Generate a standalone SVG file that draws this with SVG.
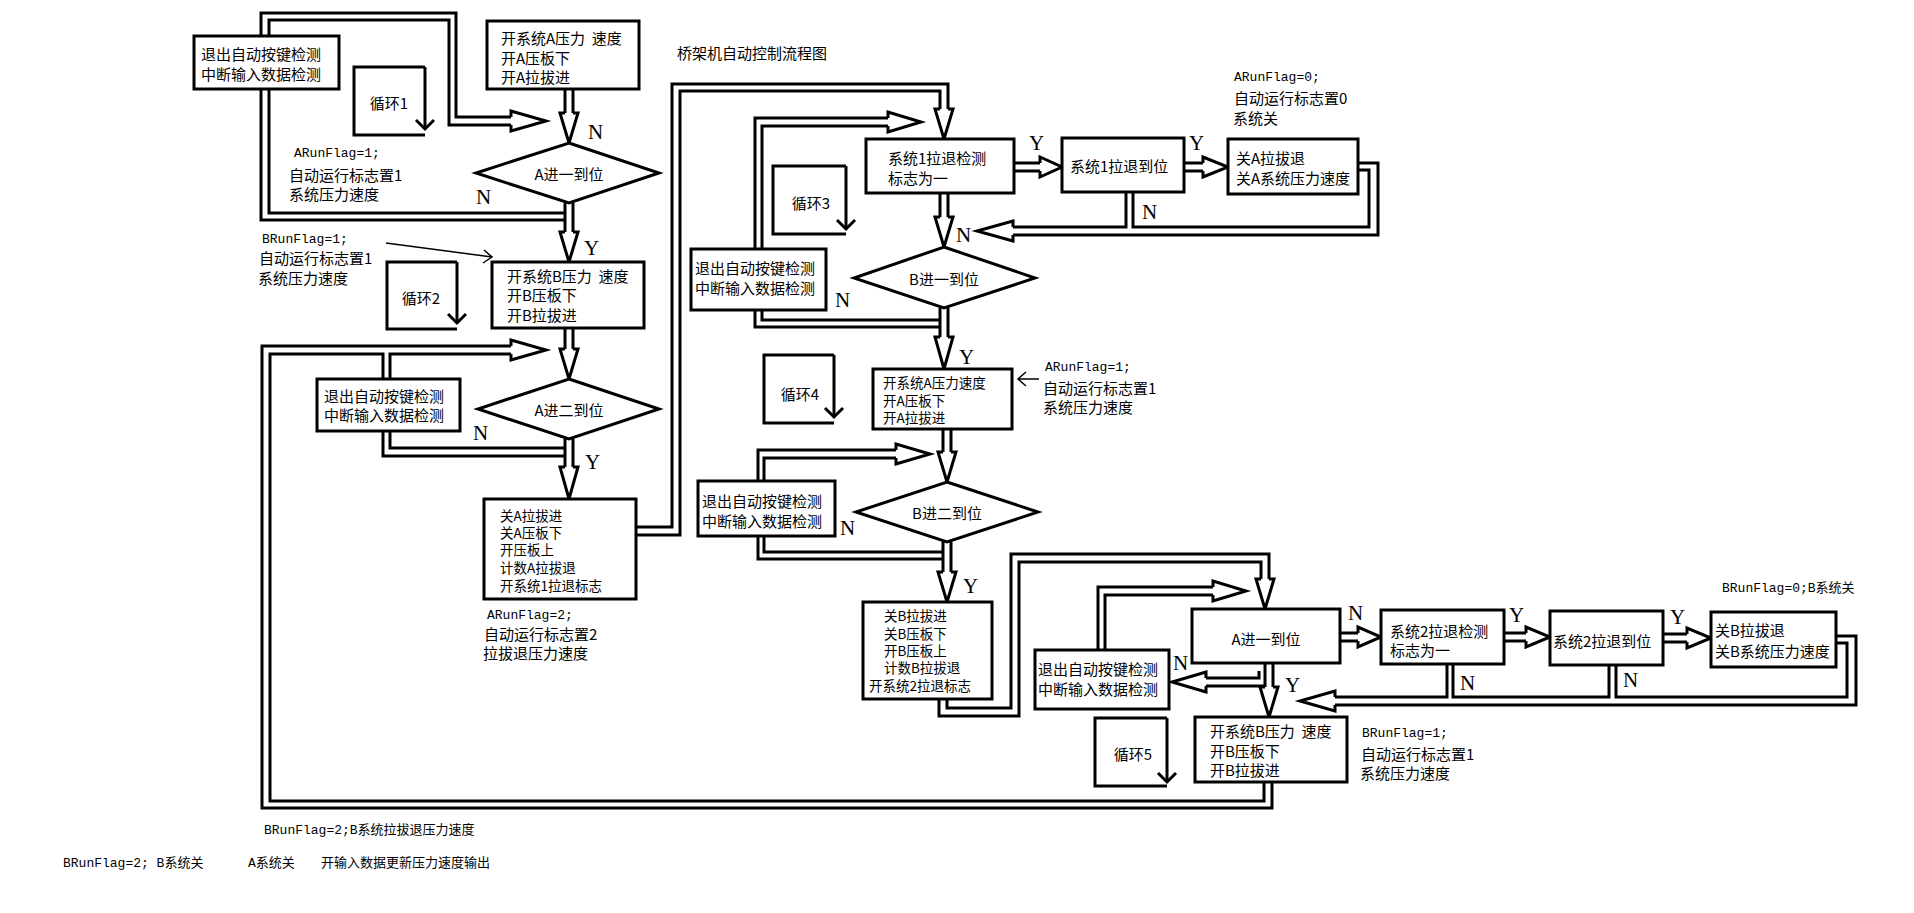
<svg xmlns="http://www.w3.org/2000/svg" width="1914" height="913" viewBox="0 0 1914 913">
<style>
.ln{fill:none;stroke:#000;stroke-width:3}
.hd{fill:#fff;stroke:#000;stroke-width:3;stroke-linejoin:miter}
.th{fill:none;stroke:#000;stroke-width:1.5}
.bx{fill:#fff;stroke:#000;stroke-width:3}
.t{font-family:"Noto Sans CJK SC","Liberation Sans",sans-serif;font-size:15px;fill:#000;dominant-baseline:central;white-space:pre}
.s{font-size:13.5px}
.m{font-family:"Liberation Mono","Noto Sans CJK SC",monospace;font-size:13px;fill:#000;dominant-baseline:central}
.c{text-anchor:middle}
.yn{font-family:"Liberation Serif",serif;font-size:21px;fill:#000;dominant-baseline:central}
</style>
<rect width="1914" height="913" fill="#fff"/>
<g id="connectors">
<path class="ln" d="M565,89V113M573,89V113"/><polyline class="hd" points="565,113 560,113 569,143 578,113 573,113"/>
<path class="ln" d="M565,203V232M573,203V232"/><polyline class="hd" points="565,232 560,232 569,262 578,232 573,232"/>
<path class="ln" d="M565,328V349M573,328V349"/><polyline class="hd" points="565,349 560,349 569,379 578,349 573,349"/>
<path class="ln" d="M565,439V467M573,439V467"/><polyline class="hd" points="565,467 560,467 569,499 578,467 573,467"/>
<path class="ln" d="M511,117H456V13H261V220H565M511,125H449V20H269V213H565"/>
<polyline class="hd" points="511,117 511,111 546,121 511,131 511,125"/>
<path class="ln" d="M511,346H262V808H1272V782M1264,782V801H270V354H383V456H565M511,354H390V448H565"/>
<polyline class="hd" points="511,346 511,340 546,350 511,360 511,354"/>
<path class="ln" d="M636,527H672V84H948V109M636,535H680V91H940V109"/>
<polyline class="hd" points="940,109 935,109 944,139 953,109 948,109"/>
<path class="ln" d="M888,118H755V327H940M888,126H762V320H940"/>
<polyline class="hd" points="888,118 888,112 921,122 888,132 888,126"/>
<path class="ln" d="M940,193V217M948,193V217"/><polyline class="hd" points="940,217 935,217 944,247 953,217 948,217"/>
<path class="ln" d="M940,308V337M948,308V337"/><polyline class="hd" points="940,337 935,337 944,369 953,337 948,337"/>
<path class="ln" d="M1014,163H1040M1014,171H1040"/><polyline class="hd" points="1040,163 1040,157 1062,167 1040,177 1040,171"/>
<path class="ln" d="M1184,163H1203M1184,171H1203"/><polyline class="hd" points="1203,163 1203,157 1228,167 1203,177 1203,171"/>
<path class="ln" d="M1126,192V227H1013M1133,192V227H1369V170H1358M1013,235H1378V163H1358"/>
<polyline class="hd" points="1013,227 1013,221 977,231 1013,241 1013,235"/>
<line class="th" x1="1039" y1="379" x2="1018" y2="379"/><polyline class="th" points="1026,372 1018,379 1026,386"/>
<path class="ln" d="M896,450H758V559H943M896,458H764V552H943"/>
<polyline class="hd" points="896,450 896,444 930,454 896,464 896,458"/>
<path class="ln" d="M943,429V452M951,429V452"/><polyline class="hd" points="943,452 938,452 947,482 956,452 951,452"/>
<path class="ln" d="M943,542V572M951,542V572"/><polyline class="hd" points="943,572 938,572 947,602 956,572 951,572"/>
<path class="ln" d="M947,699V708H1011V554H1269V579M939,699V716H1019V562H1261V579"/>
<polyline class="hd" points="1261,579 1256,579 1265,609 1274,579 1269,579"/>
<path class="ln" d="M1213,587H1098V650M1213,595H1105V650"/>
<polyline class="hd" points="1213,587 1213,581 1246,591 1213,601 1213,595"/>
<path class="ln" d="M1206,678H1259V671M1206,686H1265"/>
<polyline class="hd" points="1206,678 1206,672 1172,682 1206,692 1206,686"/>
<path class="ln" d="M1265,663V687M1273,663V687"/><polyline class="hd" points="1265,687 1260,687 1269,717 1278,687 1273,687"/>
<path class="ln" d="M1340,633H1358M1340,641H1358"/><polyline class="hd" points="1358,633 1358,627 1381,637 1358,647 1358,641"/>
<path class="ln" d="M1504,633H1526M1504,641H1526"/><polyline class="hd" points="1526,633 1526,627 1550,637 1526,647 1526,641"/>
<path class="ln" d="M1663,634H1687M1663,642H1687"/><polyline class="hd" points="1687,634 1687,628 1711,638 1687,648 1687,642"/>
<path class="ln" d="M1447,664V697H1335M1453,664V697H1609V665M1616,665V697H1847V643H1836M1335,705H1856V636H1836"/>
<polyline class="hd" points="1335,697 1335,691 1300,701 1335,711 1335,705"/>
<line class="th" x1="386" y1="243" x2="492" y2="257"/><polyline class="th" points="484,250 492,257 483,263"/>
<path class="ln" d="M425,67H354V135H425M425,67V129"/><polyline class="ln" points="416,120 425,129 434,120"/>
<path class="ln" d="M457,262H387V329H457M457,262V323"/><polyline class="ln" points="448,314 457,323 466,314"/>
<path class="ln" d="M846,166H773V234H846M846,166V229"/><polyline class="ln" points="837,220 846,229 855,220"/>
<path class="ln" d="M834,355H764V423H834M834,355V417"/><polyline class="ln" points="825,408 834,417 843,408"/>
<path class="ln" d="M1167,718H1095V786H1167M1167,718V782"/><polyline class="ln" points="1158,773 1167,782 1176,773"/>
</g>
<g id="node-exit1"><rect class="bx" x="194" y="36" width="145" height="53"/><text class="t" x="201" y="53">退出自动按键检测</text><text class="t" x="201" y="73">中断输入数据检测</text></g>
<g id="node-a1"><rect class="bx" x="487" y="21" width="152" height="68"/><text class="t" x="501" y="37">开系统A压力  速度</text><text class="t" x="501" y="57">开A压板下</text><text class="t" x="501" y="76">开A拉拔进</text></g>
<g id="node-d1"><polygon class="bx" points="569,143 659,173 569,203 476,173"/><text class="t c" x="569" y="173">A进一到位</text></g>
<g id="node-b1"><rect class="bx" x="492" y="262" width="152" height="66"/><text class="t" x="507" y="275">开系统B压力  速度</text><text class="t" x="507" y="294">开B压板下</text><text class="t" x="507" y="314">开B拉拔进</text></g>
<g id="node-exit2"><rect class="bx" x="317" y="379" width="143" height="52"/><text class="t" x="324" y="395">退出自动按键检测</text><text class="t" x="324" y="414">中断输入数据检测</text></g>
<g id="node-d2"><polygon class="bx" points="569,379 659,409 569,439 478,409"/><text class="t c" x="569" y="409">A进二到位</text></g>
<g id="node-ca1"><rect class="bx" x="484" y="499" width="152" height="100"/><text class="t s" x="500" y="515">关A拉拔进</text><text class="t s" x="500" y="532">关A压板下</text><text class="t s" x="500" y="549">开压板上</text><text class="t s" x="500" y="567">计数A拉拔退</text><text class="t s" x="500" y="585">开系统1拉退标志</text></g>
<g id="node-s1"><rect class="bx" x="866" y="139" width="148" height="54"/><text class="t" x="888" y="157">系统1拉退检测</text><text class="t" x="888" y="177">标志为一</text></g>
<g id="node-s1b"><rect class="bx" x="1062" y="138" width="122" height="54"/><text class="t" x="1070" y="165">系统1拉退到位</text></g>
<g id="node-ca2"><rect class="bx" x="1228" y="139" width="130" height="55"/><text class="t" x="1236" y="157">关A拉拔退</text><text class="t" x="1236" y="177">关A系统压力速度</text></g>
<g id="node-exit3"><rect class="bx" x="691" y="249" width="135" height="61"/><text class="t" x="695" y="267">退出自动按键检测</text><text class="t" x="695" y="287">中断输入数据检测</text></g>
<g id="node-d3"><polygon class="bx" points="944,247 1035,278 944,308 854,278"/><text class="t c" x="944" y="278">B进一到位</text></g>
<g id="node-a2"><rect class="bx" x="873" y="369" width="139" height="60"/><text class="t s" x="883" y="382">开系统A压力速度</text><text class="t s" x="883" y="400">开A压板下</text><text class="t s" x="883" y="417">开A拉拔进</text></g>
<g id="node-exit4"><rect class="bx" x="698" y="481" width="137" height="55"/><text class="t" x="702" y="500">退出自动按键检测</text><text class="t" x="702" y="520">中断输入数据检测</text></g>
<g id="node-d4"><polygon class="bx" points="947,482 1038,512 947,542 856,512"/><text class="t c" x="947" y="512">B进二到位</text></g>
<g id="node-cb1"><rect class="bx" x="863" y="602" width="129" height="97"/><text class="t s" x="884" y="615">关B拉拔进</text><text class="t s" x="884" y="633">关B压板下</text><text class="t s" x="884" y="650">开B压板上</text><text class="t s" x="884" y="667">计数B拉拔退</text><text class="t s" x="869" y="685">开系统2拉退标志</text></g>
<g id="node-a3"><rect class="bx" x="1192" y="609" width="148" height="54"/><text class="t c" x="1266" y="638">A进一到位</text></g>
<g id="node-exit5"><rect class="bx" x="1035" y="650" width="134" height="59"/><text class="t" x="1038" y="668">退出自动按键检测</text><text class="t" x="1038" y="688">中断输入数据检测</text></g>
<g id="node-b3"><rect class="bx" x="1195" y="717" width="152" height="65"/><text class="t" x="1210" y="730">开系统B压力  速度</text><text class="t" x="1210" y="750">开B压板下</text><text class="t" x="1210" y="769">开B拉拔进</text></g>
<g id="node-s2"><rect class="bx" x="1381" y="610" width="123" height="54"/><text class="t" x="1390" y="630">系统2拉退检测</text><text class="t" x="1390" y="649">标志为一</text></g>
<g id="node-s2b"><rect class="bx" x="1550" y="611" width="113" height="54"/><text class="t" x="1553" y="640">系统2拉退到位</text></g>
<g id="node-cb2"><rect class="bx" x="1711" y="612" width="125" height="55"/><text class="t" x="1715" y="629">关B拉拔退</text><text class="t" x="1715" y="650">关B系统压力速度</text></g>
<g id="loops">
<text class="t c" x="389" y="102">循环1</text><text class="t c" x="421" y="297">循环2</text><text class="t c" x="811" y="202">循环3</text><text class="t c" x="800" y="393">循环4</text><text class="t c" x="1133" y="753">循环5</text>
</g>
<g id="labels">
<text class="yn" x="588" y="132">N</text><text class="yn" x="476" y="197">N</text><text class="yn" x="584" y="248">Y</text><text class="yn" x="473" y="433">N</text><text class="yn" x="585" y="462">Y</text>
<text class="yn" x="1029" y="143">Y</text><text class="yn" x="1189" y="143">Y</text><text class="yn" x="1142" y="212">N</text><text class="yn" x="956" y="235">N</text><text class="yn" x="835" y="300">N</text><text class="yn" x="959" y="357">Y</text><text class="yn" x="840" y="528">N</text><text class="yn" x="963" y="586">Y</text>
<text class="yn" x="1173" y="663">N</text><text class="yn" x="1285" y="685">Y</text><text class="yn" x="1348" y="613">N</text><text class="yn" x="1509" y="615">Y</text><text class="yn" x="1670" y="617">Y</text><text class="yn" x="1460" y="683">N</text><text class="yn" x="1623" y="680">N</text>
<text class="t" x="677" y="52">桥架机自动控制流程图</text>
<text class="m" x="294" y="153">ARunFlag=1;</text><text class="t" x="289" y="174">自动运行标志置1</text><text class="t" x="289" y="193">系统压力速度</text>
<text class="m" x="262" y="239">BRunFlag=1;</text><text class="t" x="259" y="257">自动运行标志置1</text><text class="t" x="258" y="277">系统压力速度</text>
<text class="m" x="487" y="615">ARunFlag=2;</text><text class="t" x="484" y="633">自动运行标志置2</text><text class="t" x="483" y="652">拉拔退压力速度</text>
<text class="m" x="1234" y="77">ARunFlag=0;</text><text class="t" x="1234" y="97">自动运行标志置0</text><text class="t" x="1233" y="117">系统关</text>
<text class="m" x="1045" y="367">ARunFlag=1;</text><text class="t" x="1043" y="387">自动运行标志置1</text><text class="t" x="1043" y="406">系统压力速度</text>
<text class="m" x="1722" y="588">BRunFlag=0;B系统关</text>
<text class="m" x="1362" y="733">BRunFlag=1;</text><text class="t" x="1361" y="753">自动运行标志置1</text><text class="t" x="1360" y="772">系统压力速度</text>
<text class="m" x="264" y="830">BRunFlag=2;B系统拉拔退压力速度</text>
<text class="m" x="63" y="863">BRunFlag=2; B系统关</text><text class="m" x="248" y="863">A系统关</text><text class="m" x="321" y="863">开输入数据更新压力速度输出</text>
</g>
</svg>
